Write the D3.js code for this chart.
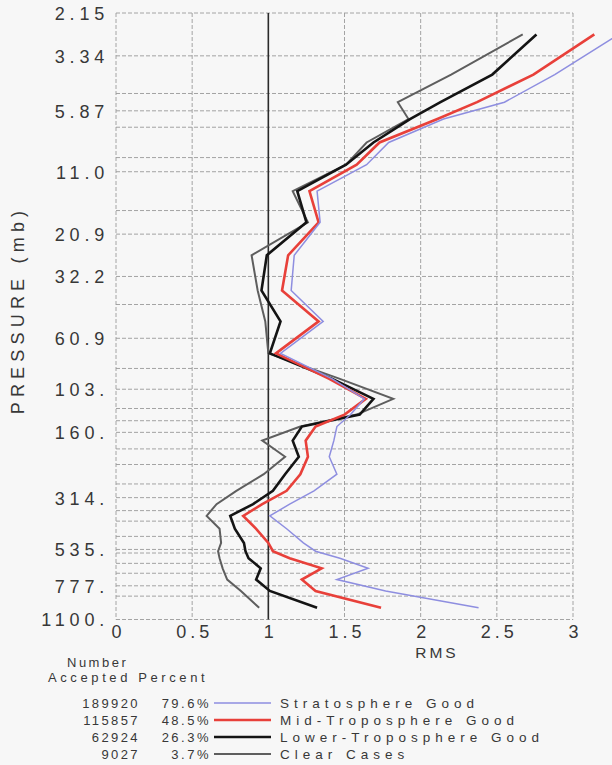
<!DOCTYPE html>
<html>
<head>
<meta charset="utf-8">
<script src="https://cdn.jsdelivr.net/npm/d3@7"></script>
<style>
  body { margin: 0; background: #f7f7f7; }
  text { font-family: "Liberation Sans", Arial, sans-serif; fill: #383838; }
</style>
</head>
<body>
<div id="rms_chart"></div>
<script>
// layer mid pressures (mb) where each RMS value is plotted
var pressureLevels = [2.68, 4.05, 5.38, 6.40, 8.14, 10.23, 13.43, 18.51, 25.98, 37.31,
  51.27, 71.24, 92.57, 113.7, 133.7, 151.2, 174.8, 206.2, 246.9, 292.8,
  335.8, 378.9, 432.7, 500.5, 545.1, 585.5, 649.8, 729.2, 820.2, 975.5];

// RMS for each QA class
var stratosphereGood = [3.30, 2.88, 2.55, 2.15, 1.79, 1.645, 1.32, 1.34, 1.17, 1.15,
  1.36, 1.08, 1.42, 1.63, 1.54, 1.45, 1.43, 1.40, 1.45, 1.30,
  1.14, 1.01, 1.12, 1.23, 1.31, 1.47, 1.655, 1.45, 1.77, 2.38];
var midTroposphereGood = [3.14, 2.74, 2.37, 2.11, 1.73, 1.58, 1.27, 1.33, 1.13, 1.09,
  1.33, 1.05, 1.40, 1.64, 1.50, 1.31, 1.245, 1.26, 1.21, 1.12,
  0.96, 0.835, 0.92, 1.00, 1.03, 1.14, 1.35, 1.22, 1.31, 1.74];
var lowerTroposphereGood = [2.76, 2.47, 2.13, 1.93, 1.69, 1.51, 1.19, 1.25, 0.99, 0.955,
  1.08, 1.01, 1.42, 1.69, 1.60, 1.22, 1.16, 1.20, 1.11, 1.03,
  0.90, 0.75, 0.78, 0.84, 0.85, 0.87, 0.95, 0.92, 1.01, 1.32];
var clearCases = [2.67, 2.20, 1.85, 1.92, 1.645, 1.51, 1.16, 1.26, 0.89, 0.93,
  0.98, 1.00, 1.47, 1.82, 1.58, 1.21, 0.96, 1.11, 0.97, 0.79,
  0.66, 0.595, 0.68, 0.69, 0.67, 0.68, 0.70, 0.73, 0.82, 0.94];

// layer boundaries (horizontal grid)
var gridPressures = [2.15, 3.34, 4.92, 5.88, 6.96, 9.51, 11.0, 16.4, 20.9, 32.3,
  43.1, 61.0, 83.2, 103.0, 125.6, 142.4, 160.5, 190.3, 223.4, 272.9,
  314.1, 359.0, 400.0, 468.0, 535.2, 555.2, 617.5, 683.7, 777.8, 865.0, 1100];

var yTickValues = [2.15, 3.34, 5.88, 11.0, 20.9, 32.3, 61.0, 103.0, 160.5, 314.1, 535.2, 777.8, 1100];
var yTickLabels = ["2.15", "3.34", "5.87", "11.0", "20.9", "32.2", "60.9", "103.", "160.", "314.", "535.", "777.", "1100."];
var xTickValues = [0, 0.5, 1, 1.5, 2, 2.5, 3];
var xTickLabels = ["0", "0.5", "1", "1.5", "2", "2.5", "3"];

var seriesNames = ["Stratosphere Good", "Mid-Troposphere Good", "Lower-Troposphere Good", "Clear Cases"];
var numberAccepted = ["189920", "115857", "62924", "9027"];
var percentAccepted = ["79.6%", "48.5%", "26.3%", "3.7%"];

var seriesValues = [stratosphereGood, midTroposphereGood, lowerTroposphereGood, clearCases];
var seriesColors = ["#8e8ee0", "#e8403a", "#141414", "#5e5e5e"];
var seriesWidths = [1.5, 2.6, 2.6, 2];

// set the dimensions and margins of the graph
var margin = {top: 13, left: 116},
    width = 457,
    height = 606.5;

var svg = d3.select("#rms_chart")
  .append("svg")
    .attr("width", 612)
    .attr("height", 765);

svg.append("rect")
  .attr("width", 612)
  .attr("height", 765)
  .attr("fill", "#f7f7f7");

var g = svg.append("g")
  .attr("transform", "translate(" + margin.left + "," + margin.top + ")");

var x = d3.scaleLinear()
  .domain([0, 3])
  .range([0, width]);

var y = d3.scaleLog()
  .domain([2.15, 1100])
  .range([0, height]);

// horizontal grid
g.append("g")
  .selectAll("line")
  .data(gridPressures)
  .enter()
  .append("line")
    .attr("x1", 0)
    .attr("x2", width)
    .attr("y1", function(d) { return y(d); })
    .attr("y2", function(d) { return y(d); })
    .attr("stroke", "#9a9a9a")
    .attr("stroke-width", 0.9)
    .attr("stroke-dasharray", "4,2");

// vertical grid
g.append("g")
  .selectAll("line")
  .data(xTickValues.filter(function(d) { return d !== 1; }))
  .enter()
  .append("line")
    .attr("x1", function(d) { return x(d); })
    .attr("x2", function(d) { return x(d); })
    .attr("y1", 0)
    .attr("y2", height)
    .attr("stroke", "#9a9a9a")
    .attr("stroke-width", 0.9)
    .attr("stroke-dasharray", "4,2");

// reference line at RMS = 1
g.append("line")
  .attr("x1", x(1))
  .attr("x2", x(1))
  .attr("y1", 0)
  .attr("y2", height)
  .attr("stroke", "#2a2a2a")
  .attr("stroke-width", 1.6);

// Y axis labels
var yAxis = d3.axisLeft(y)
  .tickValues(yTickValues)
  .tickSize(0)
  .tickPadding(0)
  .tickFormat(function(d, i) { return yTickLabels[i]; });
var yAxisG = g.append("g")
  .attr("transform", "translate(-7,0)")
  .call(yAxis);
yAxisG.select(".domain").remove();
yAxisG.selectAll("text")
  .attr("x", 0)
  .attr("dy", "0.36em")
  .style("font-size", "18px")
  .style("letter-spacing", "4.8px")
  .style("fill", "#383838")
  .style("font-family", "Liberation Sans, Arial, sans-serif");

// X axis labels
var xAxis = d3.axisBottom(x)
  .tickValues(xTickValues)
  .tickSize(0)
  .tickPadding(0)
  .tickFormat(function(d, i) { return xTickLabels[i]; });
var xAxisG = g.append("g")
  .attr("transform", "translate(2," + height + ")")
  .call(xAxis);
xAxisG.select(".domain").remove();
xAxisG.selectAll("text")
  .attr("y", 18)
  .attr("dy", 0)
  .style("font-size", "18px")
  .style("letter-spacing", "4px")
  .style("fill", "#383838")
  .style("font-family", "Liberation Sans, Arial, sans-serif");

// profiles
var line = d3.line()
  .x(function(d) { return x(d[0]); })
  .y(function(d) { return y(d[1]); });

[3, 2, 1, 0].forEach(function(k) {
  g.append("path")
    .datum(seriesValues[k].map(function(v, i) { return [v, pressureLevels[i]]; }))
    .attr("fill", "none")
    .attr("stroke", seriesColors[k])
    .attr("stroke-width", seriesWidths[k])
    .attr("stroke-linejoin", "miter")
    .attr("d", line);
});

// axis titles
svg.append("text")
  .attr("x", 437)
  .attr("y", 658)
  .attr("text-anchor", "middle")
  .style("font-size", "15.5px")
  .style("letter-spacing", "3px")
  .text("RMS");

svg.append("text")
  .attr("transform", "translate(24,310) rotate(-90)")
  .attr("text-anchor", "middle")
  .style("font-size", "18px")
  .style("letter-spacing", "5.2px")
  .text("PRESSURE (mb)");

// legend
svg.append("text")
  .attr("x", 67)
  .attr("y", 667)
  .style("font-size", "13px")
  .style("letter-spacing", "2.5px")
  .text("Number");
svg.append("text")
  .attr("x", 48)
  .attr("y", 682)
  .style("font-size", "13px")
  .style("letter-spacing", "3.6px")
  .text("Accepted Percent");

var legend = svg.append("g")
  .selectAll("g")
  .data(seriesNames)
  .enter()
  .append("g")
    .attr("transform", function(d, i) { return "translate(0," + (708 + i * 17) + ")"; });

legend.append("text")
  .attr("x", 140)
  .attr("text-anchor", "end")
  .style("font-size", "13px")
  .style("letter-spacing", "2.4px")
  .text(function(d, i) { return numberAccepted[i]; });

legend.append("text")
  .attr("x", 211)
  .attr("text-anchor", "end")
  .style("font-size", "13px")
  .style("letter-spacing", "2.5px")
  .text(function(d, i) { return percentAccepted[i]; });

legend.append("line")
  .attr("x1", 214)
  .attr("x2", 271)
  .attr("y1", -5)
  .attr("y2", -5)
  .attr("stroke", function(d, i) { return seriesColors[i]; })
  .attr("stroke-width", function(d, i) { return seriesWidths[i]; });

legend.append("text")
  .attr("x", 280)
  .style("font-size", "13.5px")
  .style("letter-spacing", "5px")
  .text(function(d) { return d; });
</script>
</body>
</html>
